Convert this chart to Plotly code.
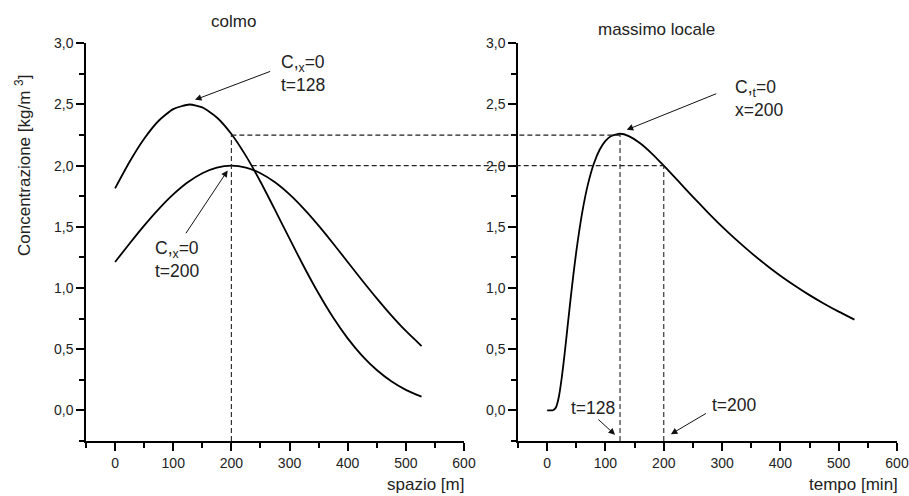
import plotly.graph_objects as go

# ---------------- data ----------------
space_x = [0, 25, 50, 75, 100, 128, 150, 175, 200, 225, 250, 275, 300, 325,
           350, 375, 400, 425, 450, 475, 500, 527]
conc_t128 = [1.815, 2.032, 2.220, 2.367, 2.462, 2.500, 2.476, 2.394, 2.259, 2.080,
             1.869, 1.639, 1.403, 1.172, 0.955, 0.759, 0.589, 0.446, 0.330, 0.238,
             0.168, 0.112]
space_x2 = [0, 25, 50, 75, 100, 125, 150, 175, 200, 225, 250, 275, 300, 325,
            350, 375, 400, 425, 450, 475, 500, 527]
conc_t200 = [1.213, 1.364, 1.510, 1.645, 1.765, 1.864, 1.938, 1.984, 2.000, 1.984,
             1.938, 1.864, 1.765, 1.645, 1.510, 1.364, 1.213, 1.062, 0.916, 0.777,
             0.649, 0.526]

time_t = [0, 5, 10, 15, 20, 25, 30, 35, 40, 45, 50, 60, 70, 80, 90, 100, 110, 125,
          140, 160, 180, 200, 225, 250, 275, 300, 325, 350, 375, 400, 425, 450,
          475, 500, 527]
conc_x200 = [0.000, 0.000, 0.001, 0.024, 0.110, 0.265, 0.465, 0.684, 0.903, 1.110,
             1.299, 1.614, 1.849, 2.016, 2.130, 2.203, 2.243, 2.261, 2.242, 2.181,
             2.097, 2.000, 1.873, 1.745, 1.621, 1.502, 1.391, 1.287, 1.191, 1.101,
             1.019, 0.942, 0.872, 0.807, 0.742]

# reference (dashed) levels
peak_level = 2.25
cross_level = 2.0
x_ref = 200      # m, left panel
x_cross = 235    # m, where t=128 curve crosses 2.0
t_peak = 125     # min, right panel
t_ref = 200      # min, right panel

x_ticks = [0, 100, 200, 300, 400, 500, 600]
y_ticks = [0.0, 0.5, 1.0, 1.5, 2.0, 2.5, 3.0]

# ---------------- layout geometry ----------------
W, H = 909, 496
XR = [-50, 600]
YR = [-0.25, 3.0]
DOM_L = [86 / W, 464 / W]
DOM_R = [518 / W, 897 / W]
DOM_Y = [1 - 441 / H, 1 - 43.3 / H]


def to_paper(v, dom):
    return dom[0] + (v - XR[0]) / (XR[1] - XR[0]) * (dom[1] - dom[0])


FONT = "Liberation Sans, Arial, sans-serif"
TXT = "#222222"

fig = go.Figure()
line_style = dict(color="black", width=1.8, shape="spline", smoothing=0.6)
fig.add_trace(go.Scatter(x=space_x, y=conc_t128, mode="lines", line=line_style,
                         xaxis="x", yaxis="y", showlegend=False, hoverinfo="skip"))
fig.add_trace(go.Scatter(x=space_x2, y=conc_t200, mode="lines", line=line_style,
                         xaxis="x", yaxis="y", showlegend=False, hoverinfo="skip"))
fig.add_trace(go.Scatter(x=time_t, y=conc_x200, mode="lines", line=line_style,
                         xaxis="x2", yaxis="y2", showlegend=False, hoverinfo="skip"))

axis_common = dict(
    showline=True, linecolor="black", linewidth=1.5,
    ticks="outside", ticklen=8, tickwidth=1.5, tickcolor="black",
    showgrid=False, zeroline=False, automargin=False,
    tickfont=dict(family=FONT, size=14, color=TXT),
)
xaxis_common = dict(axis_common, range=XR, tickvals=x_ticks,
                    minor=dict(ticks="outside", ticklen=5, tickwidth=1.5,
                               tickcolor="black", dtick=50, tick0=-50, showgrid=False))
yaxis_common = dict(axis_common, range=YR, tickvals=y_ticks, tickformat=".1f",
                    minor=dict(ticks="outside", ticklen=5, tickwidth=1.5,
                               tickcolor="black", dtick=0.25, tick0=0, showgrid=False))

fig.update_layout(
    width=W, height=H,
    margin=dict(l=0, r=0, t=0, b=0, pad=0),
    paper_bgcolor="white", plot_bgcolor="white",
    separators=",.",
    font=dict(family=FONT, color=TXT),
    xaxis=dict(xaxis_common, domain=DOM_L, anchor="y"),
    yaxis=dict(yaxis_common, domain=DOM_Y, anchor="x"),
    xaxis2=dict(xaxis_common, domain=DOM_R, anchor="y2"),
    yaxis2=dict(yaxis_common, domain=DOM_Y, anchor="x2"),
)

dash = dict(color="#222222", width=1.1, dash="5px,3px")
shapes = [
    dict(type="line", xref="paper", yref="y",
         x0=to_paper(x_ref, DOM_L), x1=to_paper(t_peak, DOM_R),
         y0=peak_level, y1=peak_level, line=dash),
    dict(type="line", xref="paper", yref="y",
         x0=to_paper(x_cross, DOM_L), x1=to_paper(t_ref, DOM_R),
         y0=cross_level, y1=cross_level, line=dash),
    dict(type="line", xref="x", yref="y", x0=x_ref, x1=x_ref,
         y0=YR[0], y1=peak_level, line=dash),
    dict(type="line", xref="x2", yref="y2", x0=t_peak, x1=t_peak,
         y0=YR[0], y1=peak_level, line=dash),
    dict(type="line", xref="x2", yref="y2", x0=t_ref, x1=t_ref,
         y0=YR[0], y1=cross_level, line=dash),
]
fig.update_layout(shapes=shapes)

ann = []
AF = dict(family=FONT, size=17.5, color=TXT)


def label(text, x, y, xr, yr, xanchor="left"):
    ann.append(dict(text=text, x=x, y=y, xref=xr, yref=yr, showarrow=False,
                    xanchor=xanchor, yanchor="middle", align="left", font=AF))


label("C,<sub>x</sub>=0<br>t=128", 281.9, 2.755, "x", "y")
label("C,<sub>x</sub>=0<br>t=200", 65.2, 1.235, "x", "y")
label("C,<sub>t</sub>=0<br>x=200", 318.8, 2.548, "x2", "y2")
label("t=128", 37.3, 0.02, "x2", "y2")
label("t=200", 278.6, 0.041, "x2", "y2")


def arrow(x, y, ax, ay, xr, yr):
    ann.append(dict(text="", x=x, y=y, xref=xr, yref=yr, ax=ax, ay=ay,
                    showarrow=True, arrowhead=2, arrowsize=1.3, arrowwidth=1,
                    arrowcolor="#111111", standoff=0, startstandoff=0))


arrow(137.4, 2.538, 76.7, -29, "x", "y")
arrow(193.6, 1.961, -42.7, 64.3, "x", "y")
arrow(136.5, 2.293, 91, -36.7, "x2", "y2")
arrow(116.5, -0.199, -18.3, -16.7, "x2", "y2")
arrow(212.2, -0.194, 36.6, -21.6, "x2", "y2")

TF = dict(family=FONT, size=17, color=TXT)
ann.append(dict(text="colmo", x=233.5 / W, y=1 - 22 / H, xref="paper", yref="paper",
                showarrow=False, xanchor="center", yanchor="middle", font=TF))
ann.append(dict(text="massimo locale", x=656 / W, y=1 - 29.5 / H, xref="paper",
                yref="paper", showarrow=False, xanchor="center", yanchor="middle", font=TF))
ann.append(dict(text="spazio [m]", x=466 / W, y=0, xref="paper", yref="paper",
                showarrow=False, xanchor="right", yanchor="bottom", font=TF))
ann.append(dict(text="tempo [min]", x=900 / W, y=0, xref="paper", yref="paper",
                showarrow=False, xanchor="right", yanchor="bottom", font=TF))
ann.append(dict(text="Concentrazione [kg/m <sup>3</sup>]", x=23 / W, y=1 - 166 / H,
                xref="paper", yref="paper", showarrow=False, textangle=-90,
                xanchor="center", yanchor="middle", font=TF))

fig.update_layout(annotations=ann)
fig.write_html("out.html",
               config={"displayModeBar": False},
               post_script="document.body.style.margin='0px';"
                           "document.body.style.overflow='hidden';")
